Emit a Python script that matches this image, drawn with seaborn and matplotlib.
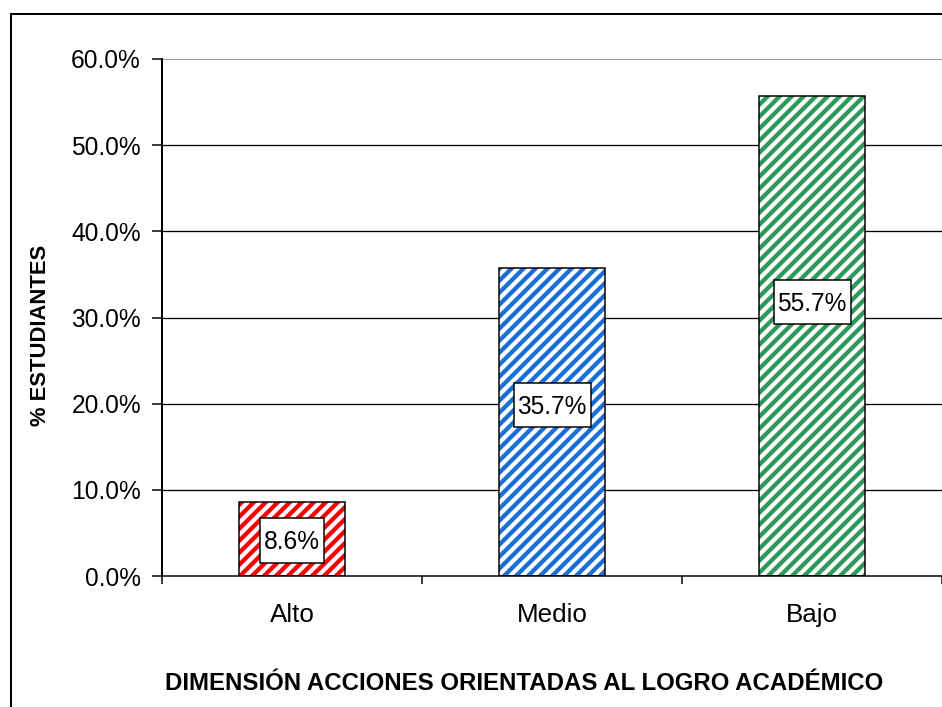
import matplotlib
matplotlib.use("Agg")
import matplotlib.pyplot as plt
import matplotlib.transforms as mtransforms
import seaborn as sns
import pandas as pd
from matplotlib.patches import Rectangle
from matplotlib.ticker import FuncFormatter, FixedLocator

categories = ["Alto", "Medio", "Bajo"]
values = [8.6, 35.7, 55.7]
value_labels = ["8.6%", "35.7%", "55.7%"]
y_ticks = [0, 10, 20, 30, 40, 50, 60]
x_title = "DIMENSIÓN ACCIONES ORIENTADAS AL LOGRO ACADÉMICO"
y_title = "% ESTUDIANTES"

bar_colors = ["#ff0000", "#1a6fd6", "#2e9a5e"]
label_frac = [0.48, 0.555, 0.57]
label_box_px = [(64, 45), (77, 44), (77, 44)]

sns.set_theme(style="white")
plt.rcParams["font.family"] = ["Liberation Sans", "DejaVu Sans"]
plt.rcParams["hatch.linewidth"] = 4.3

DPI = 72
W, H = 942, 707
fig = plt.figure(figsize=(W / DPI, H / DPI), dpi=DPI)
fig.patch.set_facecolor("white")

# outer chart border (cut by image edges on right/bottom)
fig.add_artist(Rectangle((11 / W, -0.05), 1.1, (H - 14) / H + 0.05,
                         transform=fig.transFigure, fill=False,
                         edgecolor="black", linewidth=2))

ax_w_px, ax_h_px = (W - 162), (576 - 59)
ax = fig.add_axes([162 / W, (H - 576) / H, ax_w_px / W, ax_h_px / H])

df = pd.DataFrame({"cat": categories, "val": values})
sns.barplot(data=df, x="cat", y="val", ax=ax, width=0.405, color="white",
            saturation=1, zorder=3)

ax.set_xlim(-0.5, 2.5)
ax.set_ylim(0, 60)
xpp = 3.0 / ax_w_px
ypp = 60.0 / ax_h_px

bars = list(ax.patches)
for p, c in zip(bars, bar_colors):
    p.set_facecolor("white")
    p.set_edgecolor(c)
    p.set_hatch("//")
    p.set_linewidth(0)
    ax.add_patch(Rectangle(p.get_xy(), p.get_width(), p.get_height(),
                           fill=False, edgecolor="black", linewidth=1.5, zorder=4))

for p, lab, fr, (bw, bh) in zip(bars, value_labels, label_frac, label_box_px):
    x = p.get_x() + p.get_width() / 2
    y = p.get_height() * fr
    ax.add_patch(Rectangle((x - bw * xpp / 2, y - bh * ypp / 2), bw * xpp, bh * ypp,
                           facecolor="white", edgecolor="black", linewidth=1.5, zorder=5))
    tr = mtransforms.offset_copy(ax.transData, fig=fig, x=0, y=-8.5, units="dots")
    ax.text(x, y, lab, ha="center", va="baseline", transform=tr,
            fontsize=24.5, color="black", zorder=6)

# gridlines
for t in y_ticks[1:]:
    ax.axhline(t, color="#808080" if t == 60 else "black", lw=1.5 if t == 60 else 1.3, zorder=1)

ax.yaxis.set_major_locator(FixedLocator(y_ticks))
ax.yaxis.set_major_formatter(FuncFormatter(lambda v, _: f"{v:.1f}%"))
ax.tick_params(axis="y", which="major", direction="out", length=10, width=1.5,
               labelsize=24.5, pad=11, colors="black", left=True)

ax.set_xticks(range(len(categories)))
ax.set_xticklabels(categories)
ax.set_xticks([-0.5, 0.5, 1.5, 2.5], minor=True)
ax.tick_params(axis="x", which="major", length=0, labelsize=26, pad=27, colors="black")
ax.tick_params(axis="x", which="minor", direction="out", length=8, width=1.5,
               bottom=True, colors="black")

ax.set_xlabel("")
ax.set_ylabel("")
for s in ["top", "right"]:
    ax.spines[s].set_visible(False)
ax.spines["left"].set_color("black")
ax.spines["left"].set_linewidth(2)
ax.spines["left"].set_zorder(5)
ax.spines["bottom"].set_color("black")
ax.spines["bottom"].set_linewidth(1.5)
ax.spines["bottom"].set_zorder(5)

fig.text(524 / W, 1 - 683 / H, x_title, ha="center", va="center",
         fontsize=24, fontweight="bold", color="black")
fig.text(41 / W, 1 - 335 / H, y_title, ha="center", va="center", rotation=90,
         fontsize=22, fontweight="bold", color="black")

fig.savefig("out.png", dpi=DPI, facecolor="white")
